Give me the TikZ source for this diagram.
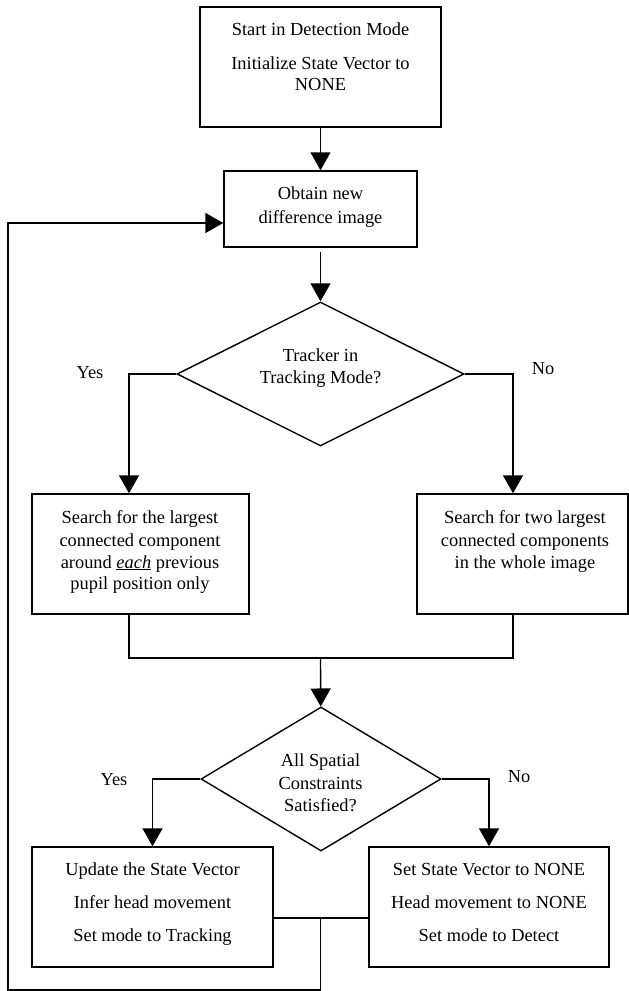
\documentclass[tikz,border=0pt]{standalone}
\usepackage{fontspec}
\setmainfont{Liberation Serif}
\usetikzlibrary{shapes.geometric,arrows.meta}
\begin{document}
\begin{tikzpicture}[x=1pt,y=-1pt,
  font=\fontsize{18.4}{22}\selectfont,
  box/.style={draw,line width=1.4pt,rectangle,inner sep=0pt},
  dia/.style={draw,line width=1.4pt,diamond,inner sep=0pt},
  txt/.style={anchor=base,inner sep=0pt},
  conn/.style={line width=1.4pt},
  arr/.style={conn,-{Triangle[width=20pt,length=18pt]}},
]
\useasboundingbox (0,0) rectangle (629,991);

% shapes
\node[box,minimum width=241pt,minimum height=120pt] (start) at (320.5,67) {};
\node[box,minimum width=193pt,minimum height=76pt] (obtain) at (320.5,209) {};
\node[dia,minimum width=287pt,minimum height=144pt] (d1) at (320.5,374) {};
\node[box,minimum width=217pt,minimum height=120pt] (sL) at (140.5,554) {};
\node[box,minimum width=211pt,minimum height=120pt] (sR) at (522.5,554) {};
\node[dia,minimum width=240pt,minimum height=144pt] (d2) at (321,779) {};
\node[box,minimum width=241pt,minimum height=120pt] (bL) at (152.5,907) {};
\node[box,minimum width=240pt,minimum height=120pt] (bR) at (489,907) {};

% texts
\node[txt] (t1a) at (320.5,35) {Start in Detection Mode};
\node[txt] (t1b) at (320.5,69) {Initialize State Vector to};
\node[txt] (t1c) at (320.5,90) {NONE};
\node[txt] (t2a) at (320.5,199) {Obtain new};
\node[txt] (t2b) at (320.5,223) {difference image};
\node[txt] (t3a) at (320.5,361) {Tracker in};
\node[txt] (t3b) at (320.5,383) {Tracking Mode?};
\node[txt] (yes1t) at (90,378) {Yes};
\node[txt] (no1t) at (543,374) {No};
\node[txt] (t4a) at (140,523) {Search for the largest};
\node[txt] (t4b) at (140,546) {connected component};
\node[txt] (t4c) at (140,568) {around \underline{\textit{each}} previous};
\node[txt] (t4d) at (140,589) {pupil position only};
\node[txt] (t5a) at (525,523) {Search for two largest};
\node[txt] (t5b) at (525,546) {connected components};
\node[txt] (t5c) at (525,568) {in the whole image};
\node[txt] (t6a) at (320.5,766) {All Spatial};
\node[txt] (t6b) at (320.5,789) {Constraints};
\node[txt] (t6c) at (320.5,811) {Satisfied?};
\node[txt] (yes2t) at (114,785) {Yes};
\node[txt] (no2t) at (519,782) {No};
\node[txt] (t7a) at (152.5,875) {Update the State Vector};
\node[txt] (t7b) at (152.5,908) {Infer head movement};
\node[txt] (t7c) at (152.5,941) {Set mode to Tracking};
\node[txt] (t8a) at (489,875) {Set State Vector to NONE};
\node[txt] (t8b) at (489,908) {Head movement to NONE};
\node[txt] (t8c) at (489,941) {Set mode to Detect};

% connectors
\draw[arr] (start) -- (obtain);
\draw[arr] ([yshift=-4pt]obtain.south) -- (d1);
\coordinate (yes1) at (129,374);
\coordinate (no1) at (513,374);
\draw[arr] (d1.west) -- (yes1) -- (yes1 |- sL.north);
\draw[arr] (d1.east) -- (no1) -- (no1 |- sR.north);
\coordinate (m) at (320.5,658);
\draw[conn] (yes1 |- sL.south) -- (yes1 |- m) -- (no1 |- m) -- (no1 |- sR.south);
\draw[arr] (m) -- (d2);
\draw[arr] (d2.west) -| (bL.north);
\draw[arr] (d2.east) -| (bR.north);
\coordinate (j) at (320.5,918);
\draw[conn] (bL.east |- j) -- (bR.west |- j);
\coordinate (lb) at (8,990);
\draw[arr] (j) |- (lb) |- ([yshift=-14pt]obtain.west);
\end{tikzpicture}
\end{document}
